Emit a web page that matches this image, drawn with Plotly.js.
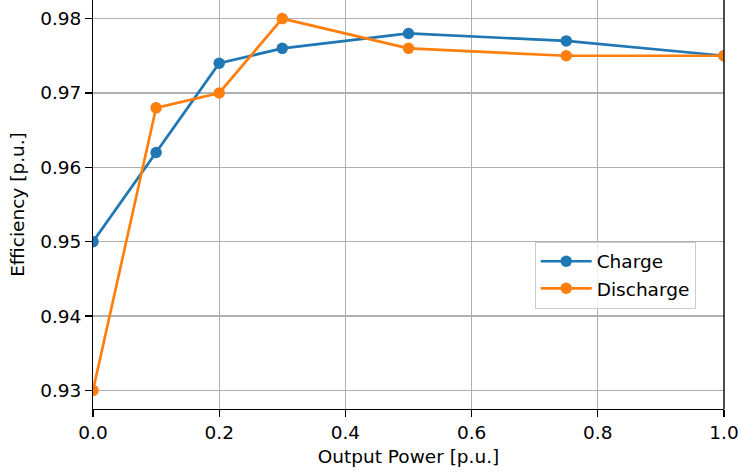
<!DOCTYPE html>
<html>
<head>
<meta charset="utf-8">
<script src="https://cdn.plot.ly/plotly-3.0.1.min.js"></script>
<style>html,body{margin:0;padding:0;background:#fff;}#chart{width:740px;height:473px;}</style>
</head>
<body>
<div id="chart"></div>
<script>
const outputPower = [0, 0.1, 0.2, 0.3, 0.5, 0.75, 1.0];
const chargeEff = [0.950, 0.962, 0.974, 0.976, 0.978, 0.977, 0.975];
const dischargeEff = [0.930, 0.968, 0.970, 0.980, 0.976, 0.975, 0.975];
const seriesNames = ["Charge", "Discharge"];
const xTickVals = [0, 0.2, 0.4, 0.6, 0.8, 1.0];
const yTickVals = [0.93, 0.94, 0.95, 0.96, 0.97, 0.98];

const font = {family: "DejaVu Sans", size: 18.5, color: "#000"};

const traces = [
  {x: outputPower, y: chargeEff, name: seriesNames[0], type: "scatter", mode: "lines+markers",
   line: {color: "#1f77b4", width: 2.7}, marker: {color: "#1f77b4", size: 11.5}},
  {x: outputPower, y: dischargeEff, name: seriesNames[1], type: "scatter", mode: "lines+markers",
   line: {color: "#ff7f0e", width: 2.7}, marker: {color: "#ff7f0e", size: 11.5}}
];

const layout = {
  width: 740, height: 473,
  margin: {l: 93, r: 16, t: 0, b: 64, pad: 0},
  paper_bgcolor: "#fff", plot_bgcolor: "#fff",
  font: font,
  showlegend: true,
  legend: {x: 0.70, y: 0.409, xanchor: "left", yanchor: "top",
    itemwidth: 51,
    bgcolor: "rgba(255,255,255,0.8)", bordercolor: "#cccccc", borderwidth: 1,
    font: {family: "DejaVu Sans", size: 18.5, color: "#000"}},
  xaxis: {range: [0, 1], tickvals: xTickVals, tickformat: ".1f",
    showgrid: true, gridcolor: "#b0b0b0", gridwidth: 1.4, zeroline: false,
    showline: true, linecolor: "#000", linewidth: 1.4,
    ticks: "outside", ticklen: 6.5, tickwidth: 1.4, tickcolor: "#000",
    title: {text: "Output Power [p.u.]", font: font, standoff: 8}, automargin: false},
  yaxis: {range: [0.9275, 0.9825], tickvals: yTickVals, tickformat: ".2f",
    showgrid: true, gridcolor: "#b0b0b0", gridwidth: 1.4, zeroline: false,
    showline: true, linecolor: "#000", linewidth: 1.4,
    ticks: "outside", ticklen: 6.5, tickwidth: 1.4, tickcolor: "#000",
    title: {text: "Efficiency [p.u.]", font: font, standoff: 10}, automargin: false},
  shapes: [{type: "line", xref: "paper", yref: "paper", x0: 1, x1: 1, y0: 0, y1: 1,
    line: {color: "#000", width: 1.4}}]
};

Plotly.newPlot("chart", traces, layout, {displayModeBar: false, staticPlot: true});
</script>
</body>
</html>
